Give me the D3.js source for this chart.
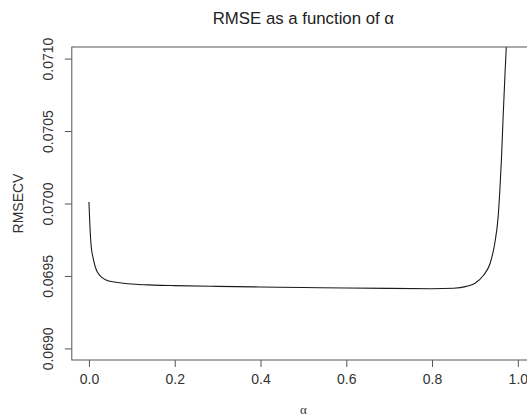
<!DOCTYPE html>
<html>
<head>
<meta charset="utf-8">
<script src="https://cdn.jsdelivr.net/npm/d3@7"></script>
<style>
  html, body { margin: 0; padding: 0; background: #fff; }
  svg { display: block; font-family: "Liberation Sans", Arial, sans-serif; }
</style>
</head>
<body>
<svg id="chart" width="527" height="420"></svg>
<script>
// Cross-validated RMSE for each mixing parameter alpha
const alpha = [0, 0.002, 0.005, 0.01, 0.015, 0.02, 0.03, 0.04, 0.06, 0.08, 0.1, 0.15, 0.2,
  0.3, 0.4, 0.5, 0.6, 0.7, 0.8, 0.85, 0.88, 0.9, 0.92, 0.935, 0.946, 0.954, 0.958,
  0.962, 0.966, 0.97, 0.974];
const rmsecv = [0.07001, 0.06986, 0.06971, 0.06962, 0.06956, 0.069525, 0.06949, 0.069472,
  0.069458, 0.06945, 0.069444, 0.069437, 0.069433, 0.069428, 0.069424, 0.06942,
  0.069417, 0.069414, 0.069412, 0.069415, 0.069428, 0.06945, 0.069505, 0.069584,
  0.069722, 0.069906, 0.07009, 0.07032, 0.07062, 0.07089, 0.07114];

const xTicks = [0, 0.2, 0.4, 0.6, 0.8, 1.0];
const yTicks = [0.0690, 0.0695, 0.0700, 0.0705, 0.0710];
const xLimits = [0, 1];
const yLimits = [0.069, 0.071];

const svg = d3.select("#chart");
const plot = { left: 71.8, right: 535, top: 47, bottom: 360 };

// R-style 4% padding around the limits
const pad = (lim) => { const r = lim[1] - lim[0]; return [lim[0] - 0.04 * r, lim[1] + 0.04 * r]; };
const x = d3.scaleLinear().domain(pad(xLimits)).range([plot.left, plot.right]);
const y = d3.scaleLinear().domain(pad(yLimits)).range([plot.bottom, plot.top]);

svg.append("defs").append("clipPath").attr("id", "plotClip")
  .append("rect")
  .attr("x", plot.left).attr("y", plot.top)
  .attr("width", plot.right - plot.left).attr("height", plot.bottom - plot.top);

// Curve
const line = d3.line()
  .x((d, i) => x(alpha[i]))
  .y((d) => y(d))
  .curve(d3.curveMonotoneX);

svg.append("path")
  .attr("clip-path", "url(#plotClip)")
  .attr("d", line(rmsecv))
  .attr("fill", "none")
  .attr("stroke", "#1a1a1a")
  .attr("stroke-width", 1.1);

// Plot box
svg.append("rect")
  .attr("x", plot.left).attr("y", plot.top)
  .attr("width", plot.right - plot.left).attr("height", plot.bottom - plot.top)
  .attr("fill", "none").attr("stroke", "#555").attr("stroke-width", 1);

// X axis
const xAxis = svg.append("g")
  .attr("transform", `translate(0,${plot.bottom})`)
  .call(d3.axisBottom(x).tickValues(xTicks).tickFormat(d3.format(".1f")).tickSize(7).tickPadding(7));
xAxis.select(".domain").remove();
xAxis.selectAll("line").attr("stroke", "#555");
xAxis.selectAll("text").attr("font-size", 14).attr("fill", "#333")
  .attr("font-family", "Liberation Sans, Arial, sans-serif");

// Y axis with rotated labels
const yAxis = svg.append("g")
  .attr("transform", `translate(${plot.left},0)`)
  .call(d3.axisLeft(y).tickValues(yTicks).tickFormat(d3.format(".4f")).tickSize(7));
yAxis.select(".domain").remove();
yAxis.selectAll("line").attr("stroke", "#555");
yAxis.selectAll("text")
  .attr("font-size", 14).attr("fill", "#333")
  .attr("font-family", "Liberation Sans, Arial, sans-serif")
  .attr("x", null)
  .attr("text-anchor", "middle")
  .attr("transform", "translate(-19,0) rotate(-90)")
  .attr("dy", "0");

// Title and axis labels
svg.append("text")
  .attr("x", (plot.left + plot.right) / 2).attr("y", 24)
  .attr("text-anchor", "middle").attr("font-size", 16.8).attr("fill", "#222")
  .text("RMSE as a function of α");

svg.append("text")
  .attr("x", (plot.left + plot.right) / 2).attr("y", 414)
  .attr("text-anchor", "middle").attr("font-size", 13)
  .attr("font-family", "Liberation Serif, serif").attr("fill", "#333")
  .text("α");

svg.append("text")
  .attr("transform", `translate(23,${(plot.top + plot.bottom) / 2}) rotate(-90)`)
  .attr("text-anchor", "middle").attr("font-size", 14).attr("fill", "#333")
  .text("RMSECV");
</script>
</body>
</html>
